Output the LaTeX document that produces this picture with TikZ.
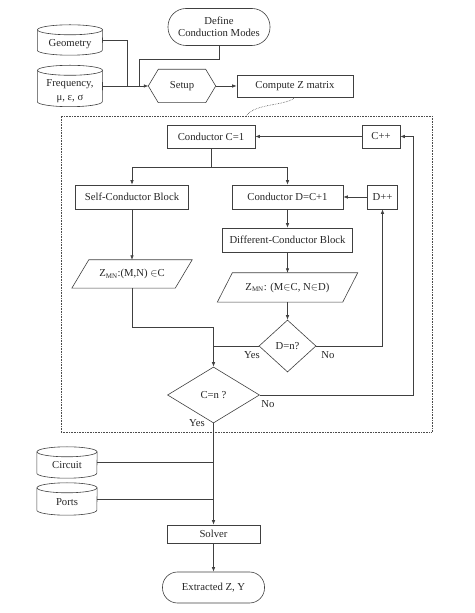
\documentclass[tikz,border=0pt]{standalone}
\usepackage{fontspec}
\setmainfont{Liberation Serif}
\usetikzlibrary{arrows.meta,shapes.geometric}
\tikzset{
  every node/.style={font=\fontsize{10.7}{12.5}\selectfont, text=black!85},
  ln/.style={draw=black!75, line width=0.6pt},
  arr/.style={ln, -{Latex[length=4.5pt,width=3.5pt]}},
  boxnode/.style={draw=black!75, line width=0.6pt, rectangle, inner sep=1pt},
  shapenode/.style={inner sep=0pt, align=center},
  decision/.style={draw=black!75, line width=0.6pt, diamond, inner sep=0pt, align=center},
  stadium/.style={draw=black!75, line width=0.6pt, rectangle, inner sep=1pt, align=center},
  lbl/.style={inner sep=0pt},
  outl/.style={draw=black!75, line width=0.6pt}
}
% name, x, y, width, height, text, text shift
\newcommand{\cylnode}[7]{%
  \node[shapenode, minimum width=#4pt, minimum height=#5pt,
        label={[name=#1-text, inner sep=0pt, align=center, yshift=#7pt]center:#6}] (#1) at (#2,#3) {};
  \draw[outl] ([yshift=-5pt]#1.north west) -- ([yshift=5pt]#1.south west)
     arc[start angle=180, end angle=360, x radius=#4pt/2, y radius=5pt]
     -- ([yshift=-5pt]#1.north east);
  \draw[outl] ([yshift=-5pt]#1.north) ellipse[x radius=#4pt/2, y radius=5pt];
}
\newcommand{\parnode}[7]{%
  \node[shapenode, minimum width=#4pt, minimum height=#5pt] (#1) at (#2,#3) {#7};
  \draw[outl] ([xshift=-#6pt]#1.south west) -- ([xshift=#6pt]#1.north west)
     -- ([xshift=#6pt]#1.north east) -- ([xshift=-#6pt]#1.south east) -- cycle;
}
\begin{document}
\begin{tikzpicture}[x=1pt,y=1pt]
\useasboundingbox (0,0) rectangle (474,613);

% inputs
\cylnode{geom}{70}{573}{65}{30}{Geometry}{-4}
\cylnode{freq}{70}{527}{65}{41}{Frequency,\\[1pt] μ, ε, σ}{-5}
\node[stadium, minimum width=102pt, minimum height=37pt, rounded corners=18pt] (modes) at (219,586) {Define\\Conduction Modes};
\node[shapenode, minimum width=67pt, minimum height=33pt] (setup) at (182,527) {Setup};
\draw[outl] (setup.west) -- ([xshift=10pt]setup.north west) -- ([xshift=-10pt]setup.north east)
   -- (setup.east) -- ([xshift=-10pt]setup.south east) -- ([xshift=10pt]setup.south west) -- cycle;
\node[boxnode, minimum width=116pt, minimum height=22pt] (compz) at (295,527) {Compute Z matrix};

\coordinate (jg) at (127,527);
\coordinate (jm) at (139,527);
\draw[ln] (geom.east) -| (jg);
\draw[ln] (modes.south) -- ++(0,-14) -| (jm);
\draw[arr] (freq.east) -- (setup.west);
\draw[arr] (setup.east) -- (compz.west);

% loop box
\node[draw=black!70, line width=0.6pt, densely dotted, minimum width=371pt, minimum height=316pt, inner sep=0pt] (loopbox) at (246.5,339) {};
\draw[black!70, line width=0.6pt, densely dotted] (compz.south) .. controls (287,507) and (255,510) .. (loopbox.north);

\node[boxnode, minimum width=88pt, minimum height=23pt] (c1) at (211,476.5) {Conductor C=1};
\node[boxnode, minimum width=38pt, minimum height=23pt] (cpp) at (381,476.5) {C++};
\node[boxnode, minimum width=113pt, minimum height=24pt] (self) at (132,416) {Self-Conductor Block};
\node[boxnode, minimum width=111pt, minimum height=24pt] (dcp1) at (287.5,416) {Conductor D=C+1};
\node[boxnode, minimum width=30pt, minimum height=24pt] (dpp) at (382.5,416) {D++};
\node[boxnode, minimum width=130pt, minimum height=24pt] (diff) at (287.5,373) {Different-Conductor Block};
\parnode{zself}{132}{339}{103}{28}{8.5}{Z\textsubscript{\scriptsize MN}:(M,N) $\in$C}
\parnode{zdiff}{287.5}{325.5}{125}{29}{7.5}{Z\textsubscript{\scriptsize MN}: (M$\in$C, N$\in$D)}
\node[decision, minimum width=57pt, minimum height=52pt] (dn) at (287.5,267) {D=n?};
\node[decision, minimum width=92pt, minimum height=56pt] (cn) at (213.5,218) {C=n ?};

\draw[arr] (cpp.west) -- (c1.east);
\draw[arr] (c1.south) -- ++(0,-19) -| (self.north);
\draw[arr] (c1.south) -- ++(0,-19) -| (dcp1.north);
\draw[arr] (dpp.west) -- (dcp1.east);
\draw[arr] (dcp1.south) -- (diff.north);
\draw[arr] (diff.south) -- (zdiff.north);
\draw[arr] (zdiff.south) -- (dn.north);
\draw[arr] (self.south) -- (zself.north);
\draw[arr] (dn.east) -| (dpp.south);
\draw[ln] (dn.west) -- (dn.west -| cn.north);
\coordinate (merge) at (213.5,286);
\draw[arr] (zself.south) |- (merge) -- (cn.north);
\coordinate (cright) at (413.5,218);
\draw[arr] (cn.east) -- (cright) |- (cpp.east);

\node[lbl] (yes1) at (252,258) {Yes};
\node[lbl] (no1) at (328,258) {No};
\node[lbl] (no2) at (268,209) {No};
\node[lbl] (yes2) at (197,190) {Yes};

% output
\cylnode{circuit}{67}{150.5}{60}{31}{Circuit}{-3}
\cylnode{ports}{67}{114}{60}{32}{Ports}{-3}
\node[boxnode, minimum width=93pt, minimum height=18pt] (solver) at (213.5,79) {Solver};
\node[stadium, minimum width=102pt, minimum height=31pt, rounded corners=15pt] (extr) at (213.5,25.5) {Extracted Z, Y};

\draw[arr] (cn.south) -- (solver.north);
\draw[ln] (circuit.east) -- (circuit.east -| cn.south);
\draw[ln] (ports.east) -- (ports.east -| cn.south);
\draw[arr] (solver.south) -- (extr.north);
\end{tikzpicture}
\end{document}
